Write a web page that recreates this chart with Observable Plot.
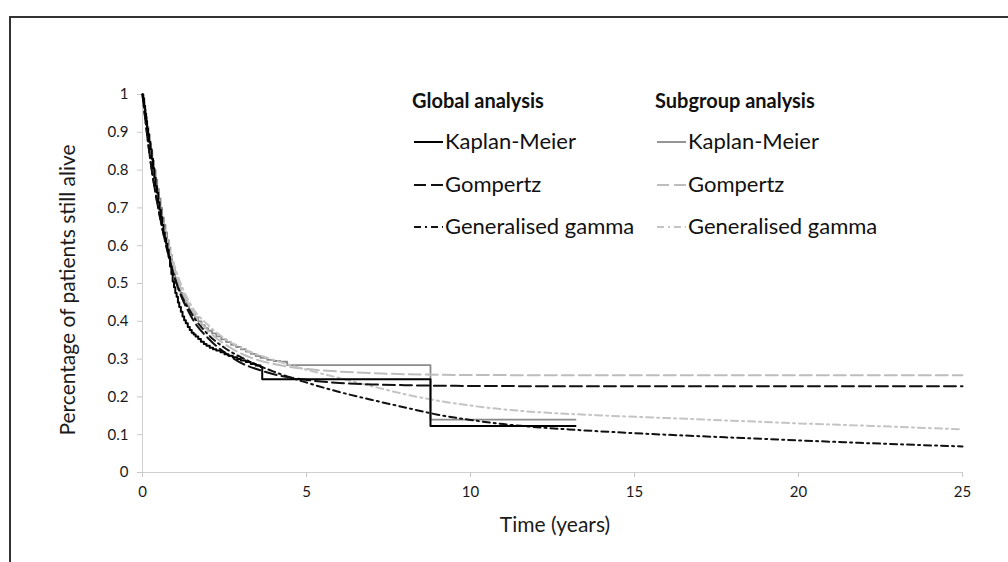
<!DOCTYPE html>
<html>
<head>
<meta charset="utf-8">
<script src="https://cdn.jsdelivr.net/npm/d3@7"></script>
<script src="https://cdn.jsdelivr.net/npm/@observablehq/plot@0.6"></script>
<style>
  html, body { margin: 0; padding: 0; background: #fff; }
  #wrap { position: relative; width: 1008px; height: 562px; overflow: hidden; font-family: Lato, "Open Sans", sans-serif; color: #1a1a1a; }
  #frame { position: absolute; left: 9px; top: 16px; right: -10px; bottom: -10px; border-top: 2px solid #333; border-left: 2px solid #333; }
  .atitle { position: absolute; font-size: 21px; color: #1a1a1a; white-space: nowrap; transform: translate(-50%,-50%); }
  #legend { position: absolute; left: 0; top: 0; width: 1008px; height: 562px; pointer-events: none; }
</style>
</head>
<body>
<div id="wrap">
  <div id="frame"></div>
  <div id="chart"></div>
  <div class="atitle" id="xtitle" style="left:555px; top:523px;">Time (years)</div>
  <div class="atitle" id="ytitle" style="left:66px; top:290px; transform: translate(-50%,-50%) rotate(-90deg);">Percentage of patients still alive</div>
  <svg id="legend"></svg>
</div>
<script>
// ---- data ----
const xTicks = [0, 5, 10, 15, 20, 25];
const yTicks = [0, 0.1, 0.2, 0.3, 0.4, 0.5, 0.6, 0.7, 0.8, 0.9, 1];

// Global analysis, Kaplan-Meier (step function)
const kmGlobalT = [0, 0.02, 0.05, 0.08, 0.11, 0.14, 0.17, 0.2, 0.24, 0.28, 0.32, 0.36, 0.4, 0.44, 0.48, 0.52, 0.56, 0.6, 0.64, 0.68, 0.72, 0.76, 0.8, 0.84, 0.88, 0.92, 0.96, 1.0, 1.04, 1.08, 1.12, 1.17, 1.22, 1.27, 1.32, 1.38, 1.44, 1.5, 1.56, 1.62, 1.7, 1.78, 1.87, 1.95, 2.05, 2.15, 2.25, 2.38, 2.5, 2.62, 2.75, 2.89, 3.0, 3.15, 3.3, 3.45, 3.6, 3.65, 8.78, 13.2];
const kmGlobalS = [1, 0.99, 0.97, 0.95, 0.93, 0.91, 0.895, 0.875, 0.855, 0.83, 0.805, 0.78, 0.757, 0.74, 0.715, 0.695, 0.675, 0.655, 0.635, 0.62, 0.605, 0.59, 0.57, 0.545, 0.525, 0.505, 0.49, 0.475, 0.465, 0.45, 0.438, 0.425, 0.413, 0.403, 0.395, 0.385, 0.377, 0.37, 0.365, 0.36, 0.353, 0.346, 0.34, 0.335, 0.33, 0.326, 0.323, 0.318, 0.313, 0.309, 0.305, 0.3, 0.296, 0.292, 0.287, 0.283, 0.279, 0.247, 0.123, 0.123];

// Subgroup analysis, Kaplan-Meier (step function)
const kmSubT = [0, 0.03, 0.06, 0.1, 0.14, 0.18, 0.22, 0.26, 0.3, 0.35, 0.4, 0.45, 0.5, 0.55, 0.6, 0.65, 0.7, 0.75, 0.8, 0.85, 0.9, 0.95, 1.0, 1.05, 1.1, 1.16, 1.22, 1.28, 1.35, 1.42, 1.5, 1.6, 1.7, 1.8, 1.9, 2.0, 2.12, 2.25, 2.4, 2.55, 2.7, 2.85, 3.0, 3.15, 3.3, 3.45, 3.6, 3.8, 4.0, 4.2, 4.41, 8.78, 13.2];
const kmSubS = [1, 0.98, 0.96, 0.94, 0.915, 0.895, 0.87, 0.85, 0.825, 0.8, 0.775, 0.75, 0.725, 0.7, 0.675, 0.655, 0.635, 0.615, 0.595, 0.575, 0.555, 0.535, 0.515, 0.5, 0.488, 0.475, 0.463, 0.452, 0.44, 0.43, 0.42, 0.41, 0.4, 0.39, 0.382, 0.375, 0.368, 0.36, 0.352, 0.345, 0.338, 0.332, 0.326, 0.32, 0.314, 0.308, 0.303, 0.298, 0.295, 0.293, 0.284, 0.14, 0.14];

// Global analysis, Gompertz
const gompGlobalT = [0, 0.25, 0.5, 0.75, 1, 1.5, 2, 2.5, 3, 3.5, 4, 5, 6, 7, 8, 10, 15, 25];
const gompGlobalS = [1, 0.82, 0.69, 0.59, 0.51, 0.41, 0.355, 0.318, 0.29, 0.273, 0.26, 0.245, 0.237, 0.233, 0.231, 0.229, 0.228, 0.228];

// Subgroup analysis, Gompertz
const gompSubT = [0, 0.25, 0.5, 0.75, 1, 1.5, 2, 2.5, 3, 3.5, 4, 5, 6, 7, 8, 10, 15, 25];
const gompSubS = [1, 0.83, 0.70, 0.61, 0.53, 0.43, 0.375, 0.34, 0.315, 0.298, 0.287, 0.274, 0.267, 0.263, 0.26, 0.258, 0.257, 0.257];

// Global analysis, Generalised gamma
const ggGlobalT = [0, 0.25, 0.5, 0.75, 1, 1.5, 2, 2.5, 3, 4, 5, 6, 7, 8, 9, 10, 11, 12, 13, 15, 17, 20, 22, 25];
const ggGlobalS = [1, 0.82, 0.69, 0.59, 0.51, 0.42, 0.365, 0.33, 0.305, 0.267, 0.238, 0.213, 0.192, 0.172, 0.153, 0.139, 0.128, 0.12, 0.114, 0.104, 0.096, 0.085, 0.078, 0.069];

// Subgroup analysis, Generalised gamma
const ggSubT = [0, 0.25, 0.5, 0.75, 1, 1.5, 2, 2.5, 3, 4, 5, 6, 7, 8, 9, 10, 11, 12, 14, 16, 18, 20, 22, 25];
const ggSubS = [1, 0.83, 0.71, 0.615, 0.54, 0.44, 0.39, 0.355, 0.33, 0.298, 0.272, 0.25, 0.228, 0.207, 0.19, 0.177, 0.167, 0.16, 0.151, 0.144, 0.137, 0.13, 0.124, 0.114];

// ---- series styles ----
const series = [
  {key: "kmSub", name: "Kaplan-Meier", t: kmSubT, s: kmSubS, stroke: "#8a8a8a", width: 1.8, dash: null, curve: "step-after"},
  {key: "gompSub", name: "Gompertz", t: gompSubT, s: gompSubS, stroke: "#bdbdbd", width: 2, dash: "12,5", curve: "monotone-x"},
  {key: "ggSub", name: "Generalised gamma", t: ggSubT, s: ggSubS, stroke: "#c4c4c4", width: 2, dash: "7,4,2,4", curve: "monotone-x"},
  {key: "gompGlobal", name: "Gompertz", t: gompGlobalT, s: gompGlobalS, stroke: "#111", width: 2, dash: "12,5", curve: "monotone-x"},
  {key: "ggGlobal", name: "Generalised gamma", t: ggGlobalT, s: ggGlobalS, stroke: "#111", width: 2, dash: "7,4,2,4", curve: "monotone-x"},
  {key: "kmGlobal", name: "Kaplan-Meier", t: kmGlobalT, s: kmGlobalS, stroke: "#000", width: 2, dash: null, curve: "step-after"}
];

const lineMarks = series.map(sr => {
  const rows = sr.t.map((t, i) => ({t, s: sr.s[i]}));
  return Plot.line(rows, {x: "t", y: "s", stroke: sr.stroke, strokeWidth: sr.width, strokeDasharray: sr.dash, curve: sr.curve});
});

const chart = Plot.plot({
  width: 1008,
  height: 562,
  marginLeft: 142,
  marginRight: 46,
  marginTop: 94,
  marginBottom: 90,
  style: {fontFamily: "Lato, 'Open Sans', sans-serif", fontSize: "15px", color: "#1a1a1a", background: "transparent"},
  x: {domain: [0, 25]},
  y: {domain: [0, 1]},
  marks: [
    Plot.ruleY([0], {stroke: "#d0d0d0", strokeWidth: 1}),
    Plot.ruleX([0], {stroke: "#d0d0d0", strokeWidth: 1}),
    Plot.axisX({ticks: xTicks, tickSize: 5, tickPadding: 9, stroke: "#c8c8c8", tickFormat: d => String(d), label: null, fontSize: 15}),
    Plot.axisY({ticks: yTicks, tickSize: 5, tickPadding: 9, stroke: "#c8c8c8", tickFormat: d => String(d), label: null, fontSize: 15}),
    ...lineMarks
  ]
});
document.getElementById("chart").appendChild(chart);

// ---- legend (overlay) ----
const legend = d3.select("#legend");
const groups = [
  {title: "Global analysis", x: 412, keys: ["kmGlobal", "gompGlobal", "ggGlobal"]},
  {title: "Subgroup analysis", x: 655, keys: ["kmSub", "gompSub", "ggSub"]}
];
const rowY = [142, 185, 227];
groups.forEach(g => {
  legend.append("text").attr("x", g.x).attr("y", 108)
    .attr("font-family", "Lato, 'Open Sans', sans-serif").attr("font-size", 20).attr("font-weight", 700)
    .attr("fill", "#111").text(g.title);
  g.keys.forEach((k, i) => {
    const sr = series.find(s => s.key === k);
    const y = rowY[i];
    legend.append("line").attr("x1", g.x + 2).attr("x2", g.x + 31).attr("y1", y).attr("y2", y)
      .attr("stroke", sr.stroke).attr("stroke-width", sr.width).attr("stroke-dasharray", sr.dash);
    legend.append("text").attr("x", g.x + 33).attr("y", y + 7)
      .attr("font-family", "Lato, 'Open Sans', sans-serif").attr("font-size", 22)
      .attr("fill", "#111").text(sr.name);
  });
});
</script>
</body>
</html>
